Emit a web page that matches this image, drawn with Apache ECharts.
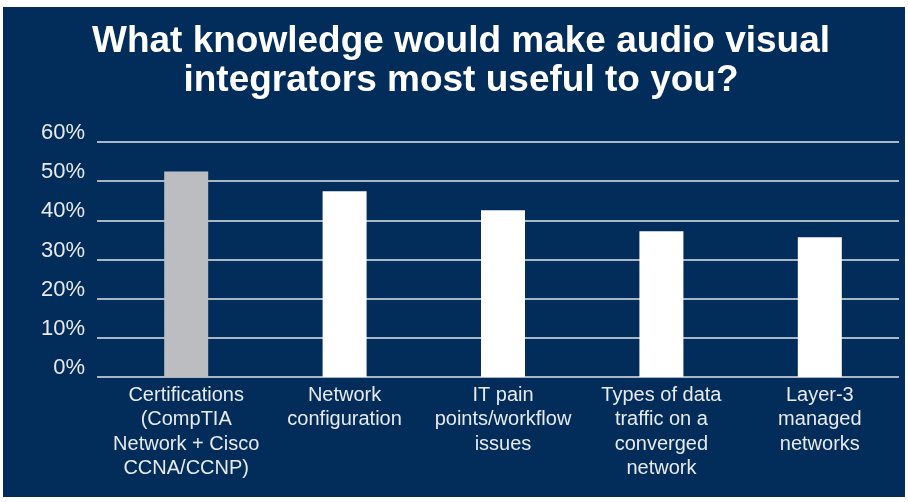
<!DOCTYPE html>
<html>
<head>
<meta charset="utf-8">
<script src="https://cdn.jsdelivr.net/npm/echarts@6/dist/echarts.min.js"></script>
<style>
html,body{margin:0;padding:0;background:#fff;}
#bg{position:absolute;left:3px;top:7px;width:902px;height:490px;background:#022c5a;}
#c{position:absolute;left:0;top:0;width:908px;height:502px;}
</style>
</head>
<body>
<div id="bg"></div>
<div id="c"></div>
<script>
const titleLines = ["What knowledge would make audio visual", "integrators most useful to you?"];
const categories = [
  "Certifications\n(CompTIA\nNetwork + Cisco\nCCNA/CCNP)",
  "Network\nconfiguration",
  "IT pain\npoints/workflow\nissues",
  "Types of data\ntraffic on a\nconverged\nnetwork",
  "Layer-3\nmanaged\nnetworks"
];
const values = [52.5, 47.4, 42.6, 37.2, 35.7];
const barColors = ["#bcbdc1", "#ffffff", "#ffffff", "#ffffff", "#ffffff"];
const yMin = 0, yMax = 60, yStep = 10;

const chart = echarts.init(document.getElementById('c'), null, {renderer: 'canvas'});
chart.setOption({
  backgroundColor: 'transparent',
  animation: false,
  title: {
    text: titleLines.join('\n'),
    left: 456,
    textAlign: 'center',
    top: 17,
    textStyle: {color: '#ffffff', fontFamily: 'Liberation Sans', fontWeight: 'bold', fontSize: 37, lineHeight: 39}
  },
  grid: [
    {left: 97, right: 9, top: 142, bottom: 125},
    {left: 107, right: 9, top: 142, bottom: 125}
  ],
  xAxis: [
    {gridIndex: 0, type: 'category', data: categories, show: false},
    {gridIndex: 1, type: 'category', data: categories,
     axisLine: {show: false}, axisTick: {show: false},
     axisLabel: {interval: 0, color: '#e8eaee', fontFamily: 'Liberation Sans', fontSize: 20, lineHeight: 24.5, margin: 6, verticalAlign: 'top'}}
  ],
  yAxis: [
    {gridIndex: 0, type: 'value', min: yMin, max: yMax, interval: yStep,
     axisLine: {show: false}, axisTick: {show: false},
     axisLabel: {formatter: '{value}%', color: '#e8eaee', fontFamily: 'Liberation Sans', fontSize: 22, lineHeight: 18, margin: 12, verticalAlign: 'bottom'},
     splitLine: {lineStyle: {color: '#e2e5ea', width: 1.6}}},
    {gridIndex: 1, type: 'value', min: yMin, max: yMax, interval: yStep, show: false, splitLine: {show: false}}
  ],
  series: [{
    type: 'bar',
    xAxisIndex: 1, yAxisIndex: 1,
    barWidth: 44,
    data: values.map((v, i) => ({value: v, itemStyle: {color: barColors[i]}})),
    z: 5
  }]
});
</script>
</body>
</html>
